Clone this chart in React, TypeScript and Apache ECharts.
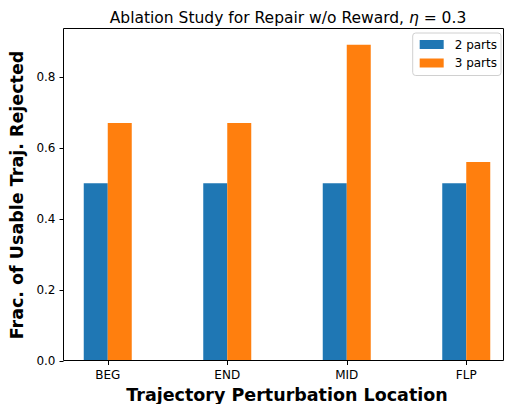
import React, { useEffect, useRef } from "react";
import * as echarts from "echarts";

const categories = ["BEG", "END", "MID", "FLP"];
const twoParts = [0.5, 0.5, 0.5, 0.5];
const threeParts = [0.67, 0.67, 0.89, 0.56];
const yTicks = [0, 0.2, 0.4, 0.6, 0.8];
const seriesNames = ["2 parts", "3 parts"];

export default function App() {
  const ref = useRef<HTMLDivElement>(null);
  useEffect(() => {
    if (!ref.current) return;
    const chart = echarts.init(ref.current, null, { renderer: "svg" });
    const font = "DejaVu Sans";
    chart.setOption({
      animation: false,
      textStyle: { fontFamily: font },
      title: {
        text: "{a|Ablation Study for Repair w/o Reward, }{i|η}{a| = 0.3}",
        left: 283,
        textAlign: "center",
        top: 5,
        textStyle: {
          fontWeight: "normal",
          rich: {
            a: { fontFamily: font, fontSize: 15.5, fontWeight: "normal", color: "#000" },
            i: { fontFamily: font, fontSize: 15.5, fontWeight: "normal", fontStyle: "italic", color: "#000" },
          },
        },
      },
      legend: {
        data: seriesNames,
        orient: "vertical",
        right: 5,
        top: 33,
        icon: "rect",
        itemWidth: 24,
        itemHeight: 9,
        itemGap: 6.5,
        padding: [5.5, 4, 6.5, 7],
        borderColor: "#d0d0d0",
        borderWidth: 1,
        borderRadius: 3,
        textStyle: { fontFamily: font, fontSize: 12, color: "#000", padding: [0, 0, 0, 6] },
      },
      grid: [
        { left: 48, width: 478, top: 29, bottom: 43, outerBoundsMode: "none", containLabel: false },
      ],
      xAxis: [
        {
          type: "category",
          gridIndex: 0,
          data: categories,
          axisLine: { show: false },
          axisTick: { show: true, alignWithLabel: true, length: 4, lineStyle: { color: "#000" } },
          axisLabel: { fontFamily: font, fontSize: 12, color: "#000", margin: 8 },
          name: "Trajectory Perturbation Location",
          nameLocation: "middle",
          nameGap: 25,
          nameTextStyle: { fontFamily: font, fontSize: 17.5, fontWeight: "bold", color: "#000" },
        },
      ],
      yAxis: [
        {
          type: "value",
          gridIndex: 0,
          min: 0,
          max: 0.9345,
          offset: -15.5,
          splitLine: { show: false },
          axisLine: { show: false },
          axisTick: { show: true, length: 4, lineStyle: { color: "#000" }, customValues: yTicks },
          axisLabel: {
            fontFamily: font,
            fontSize: 12,
            color: "#000",
            margin: 8,
            customValues: yTicks,
            formatter: (v: number) => v.toFixed(1),
          },
          name: "Frac. of Usable Traj. Rejected",
          nameLocation: "middle",
          nameGap: 32,
          nameTextStyle: { fontFamily: font, fontSize: 17.5, fontWeight: "bold", color: "#000" },
        },
      ],
      graphic: [
        {
          type: "rect",
          shape: { x: 63.5, y: 28.5, width: 440, height: 332 },
          style: { fill: "none", stroke: "#000", lineWidth: 1 },
          z: 20,
        },
      ],
      series: [
        {
          name: seriesNames[0],
          type: "bar",
          data: twoParts,
          barWidth: 24,
          barGap: "0%",
          itemStyle: { color: "#1f77b4" },
        },
        {
          name: seriesNames[1],
          type: "bar",
          data: threeParts,
          barWidth: 24,
          barGap: "0%",
          itemStyle: { color: "#ff7f0e" },
        },
      ],
    });
    return () => chart.dispose();
  }, []);
  return (
    <div
      ref={ref}
      style={{ position: "fixed", left: 0, top: 0, width: 506, height: 404, background: "#fff" }}
    />
  );
}
